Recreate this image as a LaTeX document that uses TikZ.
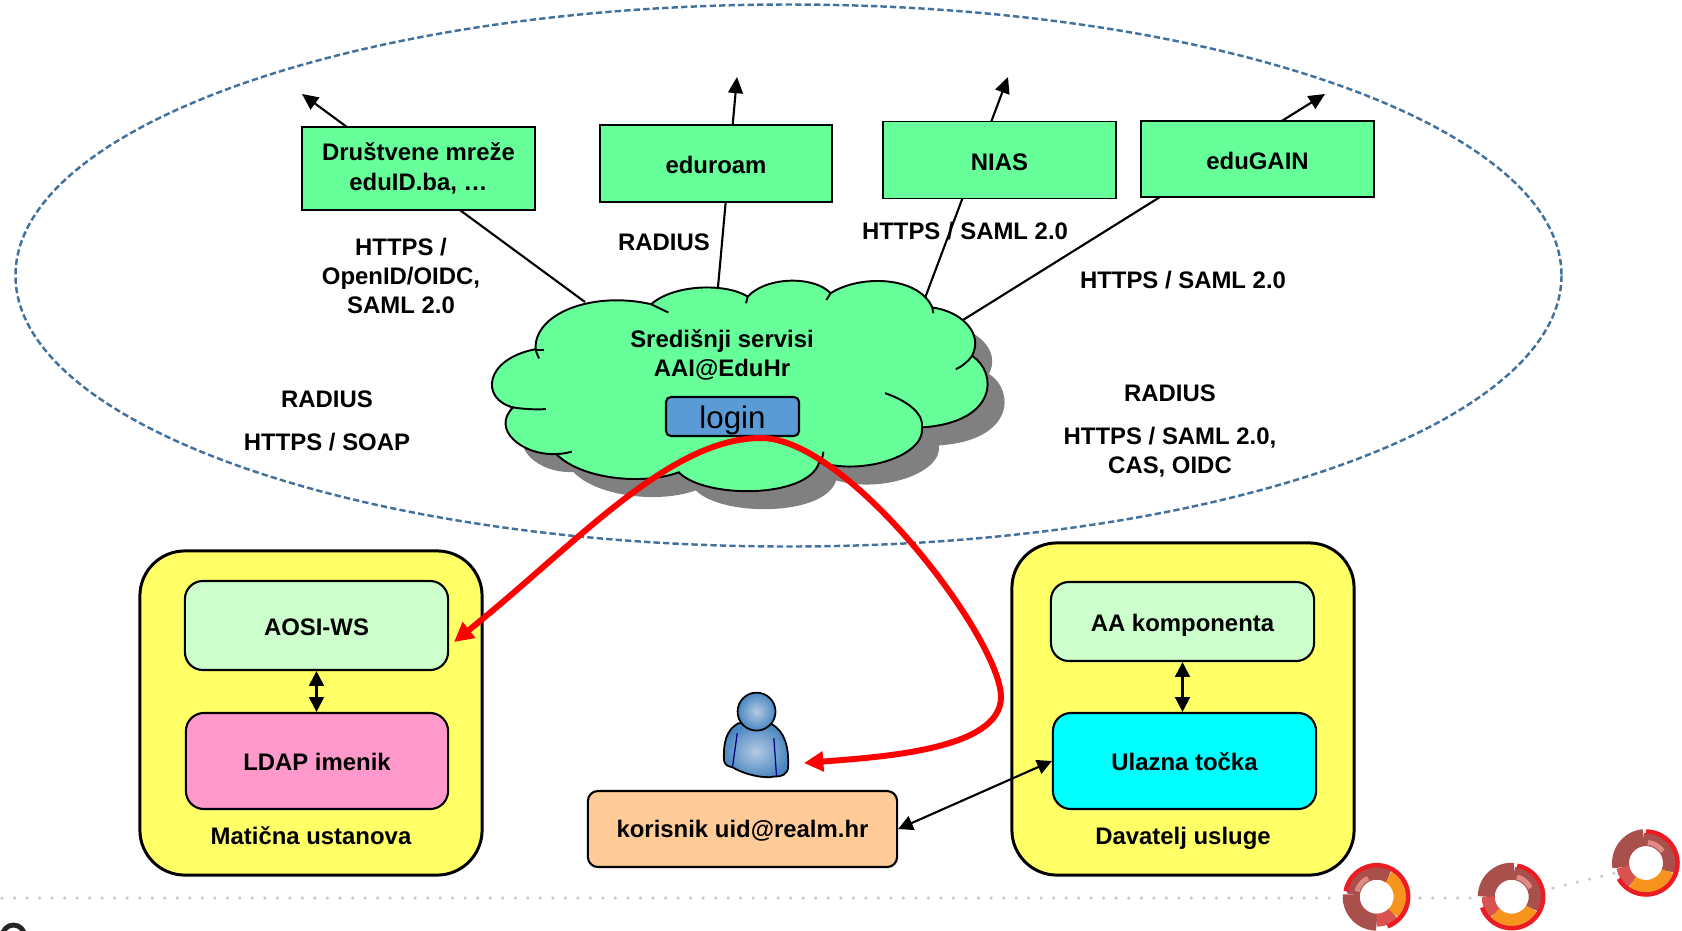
\documentclass[tikz,border=0pt]{standalone}
\usepackage{fontspec}
\setmainfont{Liberation Sans}
\usetikzlibrary{calc,arrows.meta}
\definecolor{cloudgreen}{HTML}{66FF99}
\definecolor{paleyellow}{HTML}{FFFF66}
\definecolor{palegreen}{HTML}{CCFFCC}
\definecolor{ldappink}{HTML}{FF99CC}
\definecolor{userorange}{HTML}{FFCC99}
\definecolor{entrycyan}{HTML}{00FFFF}
\definecolor{loginblue}{HTML}{5B9BD5}
\definecolor{ovalblue}{HTML}{41719C}
\definecolor{personlight}{HTML}{B4CAE4}
\definecolor{personblue}{HTML}{4A86C0}
\definecolor{ringdark}{HTML}{A94F4C}
\definecolor{ringlight}{HTML}{D9534F}
\definecolor{ringpink}{HTML}{E08A85}
\definecolor{ringorange}{HTML}{F7941D}
\definecolor{ringred}{HTML}{ED1C24}
\definecolor{dotgray}{HTML}{C8C8C8}
\def\ringarc[#1](#2)(#3:#4:#5){\draw[#1] ($(#2)+(#3:#5)$) arc (#3:#4:#5);}
\def\ringlogo(#1)(#2){
	\ringarc[line width=0.17cm, color=ringdark](#1)(95+#2:190+#2:25.5);
	\ringarc[line width=0.13cm, color=ringlight](#1)(190+#2:235+#2:23.5);
	\ringarc[line width=0.13cm, color=ringorange](#1)(235+#2:340+#2:23.5);
	\ringarc[line width=0.13cm, color=ringdark](#1)(340+#2:455+#2:23.5);
	\ringarc[line width=0.05cm, color=ringpink](#1)(395+#2:445+#2:20.5);
	\ringarc[line width=0.045cm, color=ringred](#1)(210+#2:450+#2:31.5);
}
\def\cloudpath{(190,240) .. controls (185,130) and (360,65) .. (525,105)
	.. controls (590,45) and (740,40) .. (805,82)
	.. controls (860,20) and (1000,20) .. (1045,72)
	.. controls (1130,15) and (1300,20) .. (1340,115)
	.. controls (1420,125) and (1490,190) .. (1455,260)
	.. controls (1530,310) and (1530,460) .. (1310,475)
	.. controls (1320,560) and (1140,620) .. (1012,580)
	.. controls (980,690) and (680,690) .. (605,610)
	.. controls (500,650) and (320,630) .. (250,555)
	.. controls (150,560) and (60,480) .. (125,415)
	.. controls (30,390) and (40,270) .. (190,240) -- cycle}
\tikzset{
	label/.style={font=\fontsize{6.8}{8.3}\selectfont\bfseries, align=center, inner sep=0pt},
	service/.style={draw=black, line width=0.55pt, fill=cloudgreen, inner sep=0pt, label, text height=6.2pt, text depth=0.4pt},
	panel/.style={draw=black, line width=0.85pt, fill=paleyellow, rounded corners=0.45cm, inner sep=0pt},
	innerbox/.style={draw=black, line width=0.6pt, rounded corners=0.18cm, inner sep=0pt, label, text height=5.8pt, text depth=0.4pt},
	uplink/.style={line width=0.6pt, -{Triangle[length=4.6pt,width=4.2pt]}},
	biarrow/.style={line width=0.6pt, {Triangle[length=4.2pt,width=4.2pt]}-{Triangle[length=4.2pt,width=4.2pt]}},
	redarrow/.style={color=red, line width=1.7pt, {Triangle[length=5.5pt,width=5.5pt]}-{Triangle[length=5.5pt,width=5.5pt]}},
	dotline/.style={color=dotgray, line width=1pt, line cap=round, dash pattern=on 0pt off 3.56pt}
}
\begin{document}
\begin{tikzpicture}[x=0.01cm,y=-0.01cm]
		%%%%% START %%%%%
		\useasboundingbox (0,0) rectangle (1682,930);
		
		\draw[color=ovalblue, line width=0.7pt, dash pattern=on 1.8pt off 0.9pt] (788.5,275.5) ellipse (773 and 271);
		
		% dotted rule and rings
		\coordinate (ringa) at (1376.7,896.7);
		\coordinate (ringb) at (1511.7,896.7);
		\coordinate (ringc) at (1646,863);
		\draw[dotline] (2,898) -- (1340,898);
		\draw[dotline] (1420,898) -- (1477,898);
		\draw[dotline] (1553,888) -- (1615,873);
		\begin{scope}[y=0.01cm]
			\ringlogo(ringa)(80)
			\ringlogo(ringb)(-10)
			\ringlogo(ringc)(0)
		\end{scope}
		\draw[color=black!85, line width=1.4pt] (2.5,936) arc (180:360:11);
		
		% links through the service boxes
		\coordinate (cloudnet) at (585,302);
		\coordinate (cloudroam) at (718,287);
		\coordinate (cloudnias) at (925,298);
		\coordinate (cloudgain) at (963,320);
		\coordinate (tipnet) at (302,94);
		\coordinate (tiproam) at (737,77);
		\coordinate (tipnias) at (1008,77);
		\coordinate (tipgain) at (1325,94);
		\draw[uplink] (cloudnet) -- (tipnet);
		\draw[uplink] (cloudroam) -- (tiproam);
		\draw[uplink] (cloudnias) -- (tipnias);
		\draw[uplink] (cloudgain) -- (tipgain);
		
		\node[service, text height=, text depth=, minimum width=2.33cm, minimum height=0.83cm] (social) at (418.5,168.5) {Društvene mreže\\eduID.ba, …};
		\node[service, minimum width=2.32cm, minimum height=0.77cm] (eduroam) at (716,163.5) {eduroam};
		\node[service, minimum width=2.33cm, minimum height=0.77cm] (nias) at (999.5,160) {NIAS};
		\node[service, minimum width=2.33cm, minimum height=0.76cm] (edugain) at (1257.5,159) {eduGAIN};
		
		% cloud
		\begin{scope}[shift={(470,269.3)},x=0.003444cm,y=-0.00333cm]
			\fill[color=black!50, xshift=0.17cm, yshift=-0.18cm] \cloudpath;
			\draw[fill=cloudgreen, line width=0.55pt] \cloudpath;
			\draw[line width=0.55pt] (525,105) -- (575,130);
			\draw[line width=0.55pt] (805,82) -- (800,102);
			\draw[line width=0.55pt] (1045,72) -- (1033,92);
			\draw[line width=0.55pt] (1340,115) -- (1343,132);
			\draw[line width=0.55pt] (1455,260) .. controls (1445,275) and (1430,290) .. (1408,300);
			\draw[line width=0.55pt] (1203,372) .. controls (1280,400) and (1315,440) .. (1310,475);
			\draw[line width=0.55pt] (1012,580) .. controls (1020,570) and (1024,560) .. (1024,548);
			\draw[line width=0.55pt] (250,555) .. controls (265,555) and (280,552) .. (295,548);
			\draw[line width=0.55pt] (125,415) .. controls (155,420) and (190,422) .. (220,420);
			\draw[line width=0.55pt] (190,243) -- (215,243);
			\draw[line width=0.55pt] (190,243) -- (200,268);
		\end{scope}
		\node[label] (central) at (722,355) {Središnji servisi\\AAI@EduHr};
		\node[draw=black, line width=0.6pt, fill=loginblue, rounded corners=0.05cm, minimum width=1.33cm, minimum height=0.39cm, inner sep=0pt, font=\fontsize{8.9}{10}\selectfont, text height=7.6pt, text depth=0.6pt] (login) at (732.5,416.5) {login};
		
		% protocol labels
		\node[label] (lblnet) at (401,276) {HTTPS /\\OpenID/OIDC,\\SAML 2.0};
		\node[label] (lblroam) at (664,242.5) {RADIUS};
		\node[label] (lblnias) at (965,231) {HTTPS / SAML 2.0};
		\node[label] (lblgain) at (1183,280) {HTTPS / SAML 2.0};
		\node[label] (lblrada) at (327,399) {RADIUS};
		\node[label] (lblsoap) at (327,442) {HTTPS / SOAP};
		\node[label] (lblradb) at (1170,393) {RADIUS};
		\node[label] (lblcas) at (1170,452) {HTTPS / SAML 2.0,\\CAS, OIDC};
		
		% home institution
		\node[panel, minimum width=3.42cm, minimum height=3.24cm] (home) at (311,713) {};
		\node[innerbox, fill=palegreen, minimum width=2.63cm, minimum height=0.89cm] (aosi) at (316.5,625.5) {AOSI-WS};
		\node[innerbox, fill=ldappink, minimum width=2.62cm, minimum height=0.96cm] (ldap) at (317,761) {LDAP imenik};
		\node[label] (homename) at (311,835.5) {Matična ustanova};
		\draw[biarrow] (aosi.south) -- (aosi.south |- ldap.north);
		
		% service provider
		\node[panel, minimum width=3.42cm, minimum height=3.32cm] (provider) at (1183,709) {};
		\node[innerbox, fill=palegreen, minimum width=2.63cm, minimum height=0.79cm] (aa) at (1182.5,621.5) {AA komponenta};
		\node[innerbox, fill=entrycyan, minimum width=2.63cm, minimum height=0.96cm] (entry) at (1184.5,761) {Ulazna točka};
		\node[label] (providername) at (1183,838) {Davatelj usluge};
		\draw[biarrow] (aa.south) -- (aa.south |- entry.north);
		
		% user
		\begin{scope}[shift={(680,670)},x=0.00333cm,y=-0.00333cm]
			\draw[line width=0.5pt, inner color=personlight, outer color=personblue, color=black]
				(175,160) .. controls (140,180) and (130,215) .. (132,270) .. controls (133,285) and (145,290) .. (157,292)
				.. controls (190,312) and (250,328) .. (285,320) .. controls (305,322) and (325,312) .. (325,290)
				.. controls (327,230) and (315,185) .. (275,162) -- cycle;
			\draw[color=blue!50!black, line width=0.35pt] (172,190) -- (158,290);
			\draw[color=blue!50!black, line width=0.35pt] (282,205) -- (290,318);
			\draw[line width=0.5pt, inner color=personlight, outer color=personblue, color=black] (230,125) circle (57);
		\end{scope}
		\node[innerbox, fill=userorange, rounded corners=0.1cm, text height=5.4pt, minimum width=3.09cm, minimum height=0.76cm] (user) at (742.5,829) {korisnik uid@realm.hr};
		\draw[biarrow] (user.east) -- (entry.west);
		
		% red redirect curve
		\coordinate (redhome) at (454,642);
		\coordinate (reduser) at (804,763);
		\draw[redarrow] (redhome) .. controls (575,545) and (669,438) .. (761,438)
			.. controls (849,438) and (1001,640) .. (1001,697)
			.. controls (1001,750) and (880,757) .. (reduser);
		
		%%%%% END %%%%%
	\end{tikzpicture}
\end{document}
